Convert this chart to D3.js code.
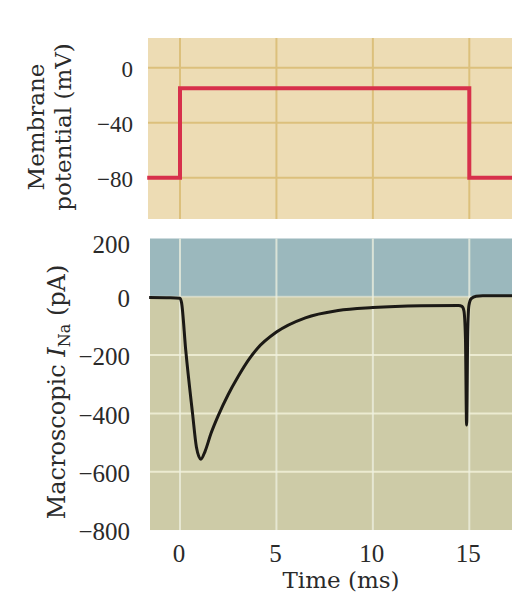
<!DOCTYPE html>
<html>
<head>
<meta charset="utf-8">
<script src="https://cdn.jsdelivr.net/npm/d3@7"></script>
<style>
  body { margin: 0; background: #fff; }
  svg { display: block; }
</style>
</head>
<body>
<div id="chart"></div>
<script>
// Voltage step protocol (ms, mV)
const stepTime = [-1.7, 0, 15, 17.5];
const stepVoltage = [-80, -15, -80, -80];

// Macroscopic Na current trace (ms, pA)
const currentTime = [-1.6, -0.5, 0, 0.08, 0.3, 0.65, 0.85, 1.08, 1.3, 1.6, 2.0, 2.5, 3.0, 3.6, 4.0, 5.0,
    6.5, 8.2, 10, 12.5, 14.45, 14.62, 14.72, 14.8, 14.86, 14.92, 14.98, 15.1, 15.35, 15.7, 17.5];
const currentValues = [-2, -3, -5, -20, -185, -400, -515, -557, -530, -470, -405, -335, -275, -212, -178, -121,
    -72, -47, -37, -31, -30, -33, -48, -140, -440, -120, -30, -6, 2, 4, 4];

const timeTicks = [0, 5, 10, 15];
const voltageTicks = [0, -40, -80];
const currentTicks = [200, 0, -200, -400, -600, -800];

const width = 512, height = 594;

const svg = d3.select('#chart').append('svg')
    .attr('width', width)
    .attr('height', height);

const x = d3.scaleLinear().domain([0, 15]).range([180, 469.3]);
const yV = d3.scaleLinear().domain([-80, 0]).range([177.7, 67.7]);
const yI = d3.scaleLinear().domain([-800, 200]).range([530, 238.5]);

const tickFont = '"Liberation Serif", "Times New Roman", serif';
const titleFont = '"DejaVu Serif", serif';

// ---- Top panel: membrane potential ----
const vBox = { left: 148, right: width, top: 38, bottom: 219 };

svg.append('rect')
    .attr('x', vBox.left).attr('y', vBox.top)
    .attr('width', vBox.right - vBox.left).attr('height', vBox.bottom - vBox.top)
    .attr('fill', '#eddcb4');

svg.append('g')
    .selectAll('line')
    .data(voltageTicks)
    .join('line')
    .attr('x1', vBox.left).attr('x2', vBox.right)
    .attr('y1', d => yV(d)).attr('y2', d => yV(d))
    .attr('stroke', '#dcc07c').attr('stroke-width', 2);

svg.append('g')
    .selectAll('line')
    .data(timeTicks)
    .join('line')
    .attr('x1', d => x(d)).attr('x2', d => x(d))
    .attr('y1', vBox.top).attr('y2', vBox.bottom)
    .attr('stroke', '#dcc07c').attr('stroke-width', 2);

const stepLine = d3.line()
    .x((d, i) => x(stepTime[i]))
    .y(d => yV(d))
    .curve(d3.curveStepAfter);

svg.append('path')
    .datum(stepVoltage)
    .attr('fill', 'none')
    .attr('stroke', '#d7304b')
    .attr('stroke-width', 4)
    .attr('d', stepLine);

svg.append('g')
    .selectAll('text')
    .data(voltageTicks)
    .join('text')
    .attr('x', 133)
    .attr('y', d => yV(d) + 1.5)
    .attr('dy', '0.35em')
    .attr('text-anchor', 'end')
    .style('font-family', tickFont)
    .style('font-size', '23px')
    .style('fill', '#2a2a2a')
    .text(d => d < 0 ? '\u2212' + Math.abs(d) : d);

const vTitle = svg.append('text')
    .attr('transform', 'translate(44,127) rotate(-90)')
    .attr('text-anchor', 'middle')
    .style('font-family', titleFont)
    .style('font-size', '23px')
    .style('fill', '#2a2a2a');
vTitle.append('tspan').attr('x', 0).attr('y', 0).text('Membrane');
vTitle.append('tspan').attr('x', 0).attr('y', 27).text('potential (mV)');

// ---- Bottom panel: macroscopic current ----
const iBox = { left: 150, right: width, top: 238.5, bottom: 530 };

svg.append('rect')
    .attr('x', iBox.left).attr('y', iBox.top)
    .attr('width', iBox.right - iBox.left).attr('height', yI(0) - iBox.top)
    .attr('fill', '#9bb8bd');

svg.append('rect')
    .attr('x', iBox.left).attr('y', yI(0))
    .attr('width', iBox.right - iBox.left).attr('height', iBox.bottom - yI(0))
    .attr('fill', '#cdcba7');

svg.append('g')
    .selectAll('line')
    .data(currentTicks.filter(d => d < 200 && d > -800))
    .join('line')
    .attr('x1', iBox.left).attr('x2', iBox.right)
    .attr('y1', d => yI(d)).attr('y2', d => yI(d))
    .attr('stroke', '#efeed6').attr('stroke-width', 2)
    .attr('stroke-opacity', d => d === 0 ? 0.5 : 0.9);

svg.append('g')
    .selectAll('line')
    .data(timeTicks)
    .join('line')
    .attr('x1', d => x(d)).attr('x2', d => x(d))
    .attr('y1', iBox.top).attr('y2', iBox.bottom)
    .attr('stroke', '#eef0e0').attr('stroke-width', 2)
    .attr('stroke-opacity', 0.75);

const traceLine = d3.line()
    .x((d, i) => x(currentTime[i]))
    .y(d => yI(d))
    .curve(d3.curveMonotoneX);

svg.append('path')
    .datum(currentValues)
    .attr('fill', 'none')
    .attr('stroke', '#1b1915')
    .attr('stroke-width', 3)
    .attr('stroke-linejoin', 'round')
    .attr('d', traceLine);

svg.append('g')
    .selectAll('text')
    .data(currentTicks)
    .join('text')
    .attr('x', 130)
    .attr('y', d => yI(d) + (d === 200 ? 6 : 1.5))
    .attr('dy', '0.35em')
    .attr('text-anchor', 'end')
    .style('font-family', tickFont)
    .style('font-size', '25px')
    .style('fill', '#2a2a2a')
    .text(d => d < 0 ? '\u2212' + Math.abs(d) : d);

svg.append('g')
    .selectAll('text')
    .data(timeTicks)
    .join('text')
    .attr('x', d => x(d) - 1)
    .attr('y', 561.5)
    .attr('text-anchor', 'middle')
    .style('font-family', tickFont)
    .style('font-size', '25px')
    .style('fill', '#2a2a2a')
    .text(d => d);

svg.append('text')
    .attr('x', 341)
    .attr('y', 588)
    .attr('text-anchor', 'middle')
    .style('font-family', titleFont)
    .style('font-size', '23px')
    .style('fill', '#2a2a2a')
    .text('Time (ms)');

const iTitle = svg.append('text')
    .attr('transform', 'translate(65,392) rotate(-90)')
    .attr('text-anchor', 'middle')
    .style('font-family', titleFont)
    .style('font-size', '24px')
    .style('fill', '#2a2a2a');
iTitle.append('tspan').text('Macroscopic ');
iTitle.append('tspan').style('font-style', 'italic').text('I');
iTitle.append('tspan').attr('dy', 5).style('font-size', '16px').text('Na');
iTitle.append('tspan').attr('dy', -5).text(' (pA)');
</script>
</body>
</html>
